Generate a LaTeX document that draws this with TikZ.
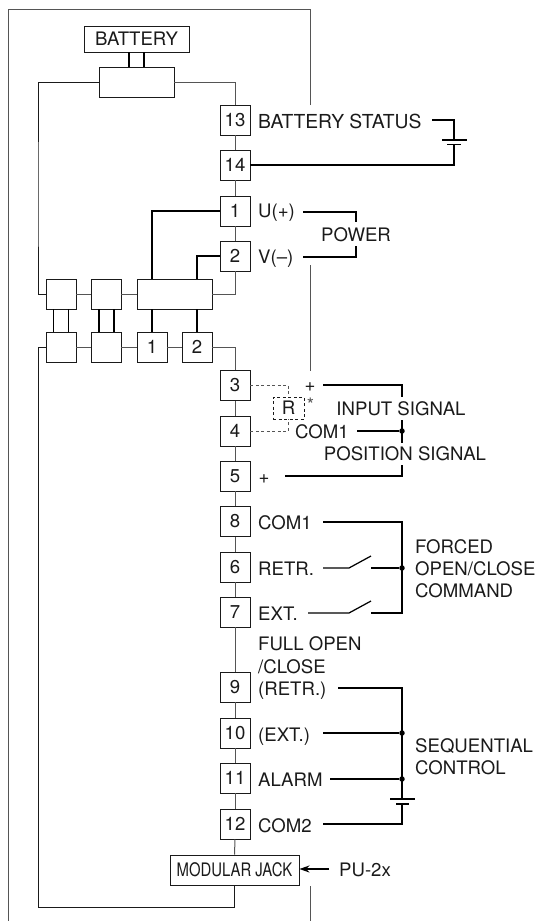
\documentclass[tikz,border=0pt]{standalone}
\usepackage{fontspec}
\setmainfont{TeX Gyre Heros}
\newfontfamily\condfont[FakeStretch=0.8]{TeX Gyre Heros}
\usetikzlibrary{arrows.meta}
\definecolor{wiregrey}{HTML}{555555}
\definecolor{ink}{HTML}{1A1A1A}
\tikzset{
  box/.style={draw=ink,line width=0.9pt,fill=white,inner sep=0pt,minimum width=30pt,minimum height=30pt,font=\fontsize{18.6}{18.6}\selectfont,text=ink},
  lab/.style={anchor=base west,inner sep=0pt,yshift=-0.5pt,font=\fontsize{18.6}{18.6}\selectfont,text=ink},
  labc/.style={anchor=base,inner sep=0pt,yshift=-0.5pt,font=\fontsize{18.6}{18.6}\selectfont,text=ink},
  thin wire/.style={draw=wiregrey,line width=1pt},
  frameline/.style={draw=wiregrey,line width=1pt},
  busline/.style={draw=ink,line width=1pt},
  heavy/.style={draw=black,line width=1.25pt},
  dashwire/.style={draw=wiregrey,line width=0.8pt,dash pattern=on 3pt off 2.5pt},
  dotj/.style={circle,fill=black,inner sep=0pt,minimum size=5.5pt},
}
\begin{document}
\begin{tikzpicture}[x=1pt,y=-1pt]
\useasboundingbox (0,0) rectangle (539,922);
% frame
\coordinate (fa) at (310,105); \coordinate (fb) at (310,9); \coordinate (fc) at (8,9); \coordinate (fd) at (8,921);
\coordinate (fe) at (310,265); \coordinate (ff) at (310,371); \coordinate (fg) at (310,886); \coordinate (fh) at (310,921);
\draw[frameline] (fa) -- (fb) -- (fc) -- (fd);
\draw[frameline] (fe) -- (ff);
\draw[frameline] (fg) -- (fh);
% boxes
\node[box,minimum width=105pt,minimum height=26pt] (bat) at (136.5,39) {BATTERY};
\node[box,minimum width=75pt] (top) at (136.5,82) {};
\node[box] (n13) at (235,120) {13};
\node[box] (n14) at (235,165) {14};
\node[box] (n1) at (235,211) {1};
\node[box] (n2) at (235,256) {2};
\node[box] (a1) at (61,294) {};
\node[box] (b1) at (106,294) {};
\node[box,minimum width=75pt] (big) at (174.5,294) {};
\node[box] (a2) at (61,347) {};
\node[box] (b2) at (106,347) {};
\node[box] (c1) at (152,347) {1};
\node[box] (c2) at (197,347) {2};
\node[box] (n3) at (235,385.5) {3};
\node[box] (n4) at (235,431) {4};
\node[box] (n5) at (235,476) {5};
\node[box] (n8) at (235,521.5) {8};
\node[box] (n6) at (235,567) {6};
\node[box] (n7) at (235,612) {7};
\node[box] (n9) at (235,687) {9};
\node[box] (n10) at (235,733) {10};
\node[box] (n11) at (235,778) {11};
\node[box] (n12) at (235,824) {12};
\node[box,minimum width=129pt] (jack) at (234.5,870) {\condfont MODULAR JACK};
% grey wires
\coordinate (busl) at (38,200); \coordinate (busr) at (235,81); \coordinate (busb) at (38,907);
\draw[busline] (top.west) -| (busl) |- (a1.west);
\draw[thin wire] (top.east) -| (n13.north);
\draw[thin wire] (n13) -- (n14);
\draw[thin wire] (n14) -- (n1);
\draw[thin wire] (n1) -- (n2);
\draw[thin wire] (n2.south) |- (big.east);
\draw[thin wire] (a1) -- (b1);
\draw[thin wire] (b1) -- (big);
\draw[busline] (a2.west) -| (busb) -| (jack.south);
\draw[thin wire] (a2) -- (b2);
\draw[thin wire] (b2) -- (c1);
\draw[thin wire] (c1) -- (c2);
\draw[thin wire] (c2.east) -| (n3.north);
\foreach \p/\q in {n3/n4,n4/n5,n5/n8,n8/n6,n6/n7,n7/n9,n9/n10,n10/n11,n11/n12,n12/jack}
  \draw[thin wire] (\p) -- (\q);
% heavy links
\coordinate (x129) at (129,60); \coordinate (x144) at (144,60);
\draw[heavy] (x129 |- bat.south) -- (x129 |- top.north);
\draw[heavy] (x144 |- bat.south) -- (x144 |- top.north);
\foreach \x in {53.5,68.5}{\draw[heavy] (\x,309) -- (\x,332);}
\foreach \x in {99,114}{\draw[heavy] (\x,309) -- (\x,332);}
\draw[heavy] (big.south -| c1) -- (c1);
\draw[heavy] (big.south -| c2) -- (c2);
\coordinate (pu) at (152,240); \coordinate (pv) at (197,270);
\draw[heavy] (n1.west) -| (pu |- big.north);
\draw[heavy] (n2.west) -| (pv |- big.north);
% labels
\node[lab,font=\fontsize{19.3}{19.3}\selectfont] (lbs) at (258,127.5) {BATTERY STATUS};
\node[lab] (lu) at (258,216.5) {U(+)};
\node[lab] (lv) at (258,262.5) {V(–)};
\node[labc] (lpow) at (356,240.5) {POWER};
\node[labc] (lpa) at (310,391) {+};
\node[labc,text=wiregrey] (lstar) at (310.5,411) {*};
\node[labc] (lin) at (401,414.5) {INPUT SIGNAL};
\node[lab] (lc1) at (295,437.5) {COM1};
\node[labc] (lpos) at (405,459.5) {POSITION SIGNAL};
\node[labc] (lpb) at (264,483) {+};
\node[lab] (l8) at (258,528.5) {COM1};
\node[lab] (l6) at (258,574.5) {RETR.};
\node[lab] (l7) at (258,619.5) {EXT.};
\node[lab] (lf1) at (415,552.5) {FORCED};
\node[lab] (lf2) at (415,574.5) {OPEN/CLOSE};
\node[lab] (lf3) at (415,596.5) {COMMAND};
\node[lab] (lo1) at (258,650) {FULL OPEN};
\node[lab] (lo2) at (258,672.5) {/CLOSE};
\node[lab] (lo3) at (258,694.5) {(RETR.)};
\node[lab] (l10) at (258,741) {(EXT.)};
\node[lab] (l11) at (258,786) {ALARM};
\node[lab] (l12) at (258,831.5) {COM2};
\node[lab] (ls1) at (415,751.5) {SEQUENTIAL};
\node[lab] (ls2) at (415,773.5) {CONTROL};
\node[lab] (lpu) at (339,875.5) {PU-2x};
% battery status symbol
\coordinate (bs0) at (432,120); \coordinate (bs1) at (454,120); \coordinate (bs2) at (454,140);
\coordinate (bs3) at (454,144); \coordinate (bsl) at (442,140); \coordinate (bsr) at (467,140);
\coordinate (bsa) at (447,144.5); \coordinate (bsb) at (461,144.5);
\draw[heavy] (bs0) -- (bs1) -- (bs2);
\draw[heavy] (bsl) -- (bsr);
\draw[heavy,line width=1.1pt] (bsa) -- (bsb);
\draw[heavy] (n14.east) -| (bs3);
% power
\coordinate (pw1) at (303,212); \coordinate (pw2) at (356,212); \coordinate (pw3) at (356,222);
\coordinate (pw4) at (303,257); \coordinate (pw5) at (356,257); \coordinate (pw6) at (356,246);
\draw[heavy] (pw1) -- (pw2) -- (pw3);
\draw[heavy] (pw4) -- (pw5) -- (pw6);
% R
\node[draw=ink,line width=0.8pt,dash pattern=on 3pt off 2.5pt,inner sep=0pt,minimum width=31pt,minimum height=22pt,font=\fontsize{18.6}{18.6}\selectfont,text=ink] (rbox) at (288.5,408) {R};
\coordinate (r3) at (288.5,385.5); \coordinate (r4) at (288.5,431);
\draw[dashwire] (n3.east) -- (r3) -- (rbox.north);
\draw[dashwire] (n4.east) -- (r4) -- (rbox.south);
% input / position signal
\coordinate (s1) at (323,385); \coordinate (s2) at (402,385); \coordinate (s3) at (402,397);
\coordinate (s4) at (402,420); \coordinate (s5) at (402,443); \coordinate (s6) at (357,431);
\coordinate (s7) at (402,465); \coordinate (s8) at (402,476); \coordinate (s9) at (285,476);
\draw[heavy] (s1) -- (s2) -- (s3);
\draw[heavy] (s4) -- (s5);
\node[dotj] (dcom) at (402,431) {};
\draw[heavy] (s6) -- (dcom);
\draw[heavy] (s7) -- (s8) -- (s9);
% forced
\coordinate (f1) at (323,522); \coordinate (f2) at (402,522); \coordinate (f3) at (402,613); \coordinate (f4) at (371,613);
\draw[heavy] (f1) -- (f2) -- (f3) -- (f4);
\node[dotj] (dfor) at (402,568) {};
\coordinate (g1) at (323,568); \coordinate (g2) at (349,568); \coordinate (g3) at (371,556); \coordinate (g4) at (371,568);
\draw[heavy,line join=round] (g1) -- (g2) -- (g3);
\draw[heavy] (g4) -- (dfor);
\coordinate (h1) at (308,613); \coordinate (h2) at (349,613); \coordinate (h3) at (371,601);
\draw[heavy,line join=round] (h1) -- (h2) -- (h3);
% sequential
\coordinate (q1) at (338,688); \coordinate (q2) at (402,688); \coordinate (q3) at (402,799);
\coordinate (q4) at (390,799); \coordinate (q5) at (415,799); \coordinate (q6) at (396,804);
\coordinate (q7) at (409,804); \coordinate (q8) at (402,804); \coordinate (q9) at (402,824); \coordinate (q10) at (323,824);
\coordinate (q11) at (323,733); \coordinate (q12) at (330,779);
\draw[heavy] (q1) -- (q2) -- (q3);
\draw[heavy] (q4) -- (q5);
\draw[heavy,line width=1.1pt] (q6) -- (q7);
\draw[heavy] (q8) -- (q9) -- (q10);
\node[dotj] (d10) at (402,733) {};
\node[dotj] (d11) at (402,779) {};
\draw[heavy] (q11) -- (d10);
\draw[heavy] (q12) -- (d11);
% PU arrow
\coordinate (pua) at (329,869);
\draw[heavy,-{Stealth[length=10pt,width=7pt]}] (pua) -- (jack.east |- pua);
\end{tikzpicture}
\end{document}
